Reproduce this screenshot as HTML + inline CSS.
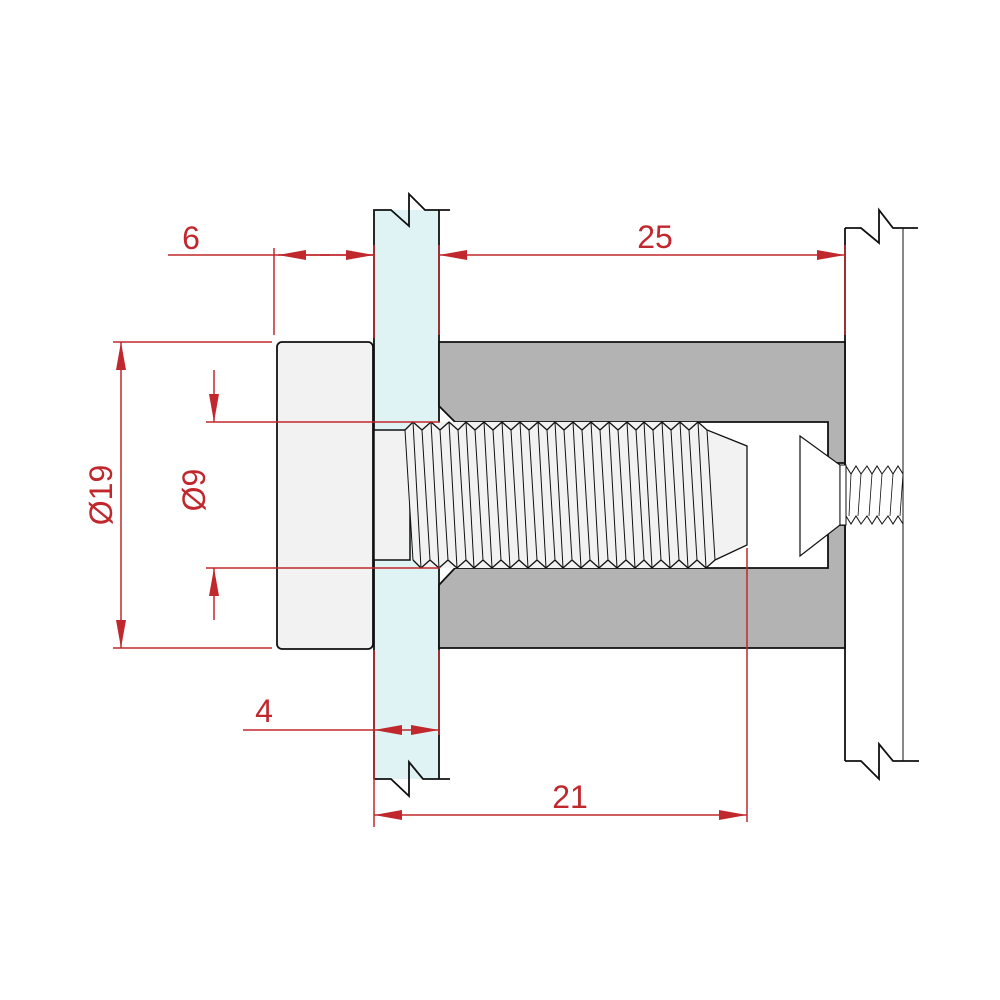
<!DOCTYPE html>
<html><head><meta charset="utf-8"><style>
html,body{margin:0;padding:0;background:#fff}
svg{display:block}
text{font-family:"Liberation Sans",sans-serif;fill:#c0282d;font-size:32px}
</style></head><body>
<svg width="1000" height="1000" viewBox="0 0 1000 1000" xmlns="http://www.w3.org/2000/svg">
<defs>
<marker id="a" viewBox="0 0 28 10" refX="28" refY="5" markerWidth="28" markerHeight="10" markerUnits="userSpaceOnUse" orient="auto"><path d="M0,0 L28,5 L0,10 Z" fill="#c0282d"/></marker>
</defs>
<rect x="374" y="210" width="65" height="569" fill="#dff3f4"/>
<path d="M374,779 V210 H391 L409,226 L409,194 L425,210 H450" fill="none" stroke="#111" stroke-width="1.8"/>
<path d="M439,210 V779" stroke="#111" stroke-width="1.8"/>
<path d="M374,779 H391 L409,796 L409,762 L423,779 H450" fill="none" stroke="#111" stroke-width="1.8"/>
<path d="M845,228 H861 L879,243 L879,210 L893,228 H918" fill="none" stroke="#111" stroke-width="1.8"/>
<path d="M845,761 H861 L879,779 L879,744 L893,761 H919" fill="none" stroke="#111" stroke-width="1.8"/>
<path d="M845,228 V761" stroke="#111" stroke-width="1.8"/>
<path d="M903,228 V761" stroke="#111" stroke-width="1"/>
<path d="M439,342 H845 V648 H439 V585 L455,568 H828 V525 H845 V463 H828 V422 H455 L439,406 Z" fill="#b3b3b3" stroke="#111" stroke-width="1.8"/>
<rect x="277" y="342" width="96" height="307" rx="5" fill="#f2f2f2" stroke="#111" stroke-width="1.8"/>
<rect x="374" y="430" width="36" height="130" fill="#f2f2f2" stroke="#111" stroke-width="1.5"/>
<path d="M405,430 L413,422 H698 L707,430 L747,446 V545 L715,560 L706,568 H421 L413,560 Z" fill="#f2f2f2"/>
<polyline fill="none" stroke="#111" stroke-width="1.3" points="405,430 413,422 422,430 431,422 440,430 449,422 458,430 466,422 475,430 484,422 493,430 502,422 511,430 520,422 529,430 538,422 547,430 555,422 564,430 573,422 582,430 591,422 600,430 609,422 618,430 627,422 636,430 644,422 653,430 662,422 671,430 680,422 689,430 698,422 707,430 747,446 747,545 715,560"/>
<polyline fill="none" stroke="#111" stroke-width="1.3" points="413,560 421,568 430,560 439,568 448,560 457,568 466,560 474,568 483,560 492,568 501,560 510,568 519,560 528,568 537,560 546,568 555,560 563,568 572,560 581,568 590,560 599,568 608,560 617,568 626,560 635,568 644,560 652,568 661,560 670,568 679,560 688,568 697,560 706,568 715,560"/>
<path fill="none" stroke="#111" stroke-width="1" d="M405,430 L413,560 M413,422 L421,568 M422,430 L430,560 M431,422 L439,568 M440,430 L448,560 M449,422 L457,568 M458,430 L466,560 M466,422 L474,568 M475,430 L483,560 M484,422 L492,568 M493,430 L501,560 M502,422 L510,568 M511,430 L519,560 M520,422 L528,568 M529,430 L537,560 M538,422 L546,568 M547,430 L555,560 M555,422 L563,568 M564,430 L572,560 M573,422 L581,568 M582,430 L590,560 M591,422 L599,568 M600,430 L608,560 M609,422 L617,568 M618,430 L626,560 M627,422 L635,568 M636,430 L644,560 M644,422 L652,568 M653,430 L661,560 M662,422 L670,568 M671,430 L679,560 M680,422 L688,568 M689,430 L697,560 M698,422 L706,568 M707,430 L715,560"/>
<path d="M800,436 L840,465 V525 L800,556 Z" fill="#fff" stroke="#111" stroke-width="1.2"/>
<rect x="840" y="465" width="6" height="60" fill="#fff" stroke="#111" stroke-width="1"/>
<polyline fill="none" stroke="#111" stroke-width="1" points="846,466 851,474 856,466 861,474 867,466 872,474 877,466 882,474 888,466 893,474 898,466 903,474"/>
<polyline fill="none" stroke="#111" stroke-width="1" points="846,516 851,524 856,516 861,524 867,516 872,524 877,516 882,524 888,516 893,524 898,516 903,524"/>
<path fill="none" stroke="#111" stroke-width="0.8" d="M851,474 L849,516 M861,474 L858,516 M872,474 L869,516 M882,474 L879,516 M893,474 L890,516 M903,474 L900,516"/>
<g stroke="#c0282d" stroke-width="1.5" fill="none">
<path d="M168,255 H374"/>
<path d="M330,255 H278" marker-end="url(#a)"/>
<path d="M320,255 H374" marker-end="url(#a)"/>
<path d="M274,248 V335"/>
<path d="M374,245 V338"/>
<path d="M439,245 V335"/>
<path d="M845,245 V335"/>
<path d="M600,255 H439" marker-end="url(#a)"/>
<path d="M600,255 H845" marker-end="url(#a)"/>
<path d="M113,342 H272 M113,648 H272"/>
<path d="M121,495 V342" marker-end="url(#a)"/>
<path d="M121,495 V648" marker-end="url(#a)"/>
<path d="M206,422 H440 M206,568 H440"/>
<path d="M214,370 V422" marker-end="url(#a)"/>
<path d="M214,620 V568" marker-end="url(#a)"/>
<path d="M243,730 H374"/>
<path d="M406,730 H374" marker-end="url(#a)"/>
<path d="M406,730 H439" marker-end="url(#a)"/>
<path d="M374,650 V827"/>
<path d="M439,650 V735"/>
<path d="M747,548 V822"/>
<path d="M560,815 H374" marker-end="url(#a)"/>
<path d="M560,815 H747" marker-end="url(#a)"/>
</g>
<text x="191" y="249" text-anchor="middle">6</text>
<text x="655" y="248" text-anchor="middle">25</text>
<text x="264" y="722" text-anchor="middle">4</text>
<text x="570" y="808" text-anchor="middle">21</text>
<text transform="translate(112,495) rotate(-90)" text-anchor="middle">Ø19</text>
<text transform="translate(205,490) rotate(-90)" text-anchor="middle">Ø9</text>
</svg>
</body></html>
